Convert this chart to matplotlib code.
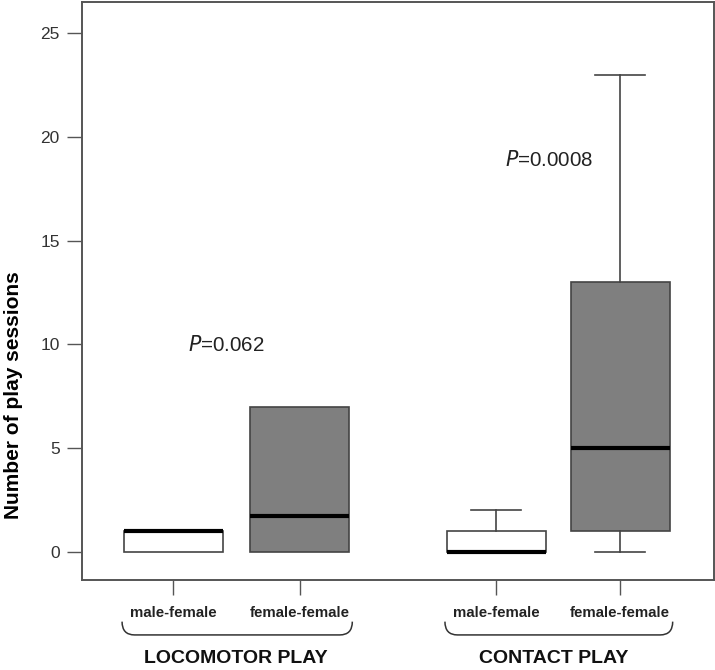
import matplotlib.pyplot as plt
import matplotlib as mpl
from matplotlib.path import Path
from matplotlib.patches import PathPatch
import matplotlib.transforms as mtransforms

plt.rcParams['font.family'] = ['Liberation Sans', 'DejaVu Sans']

# box statistics: (whislo, q1, med, q3, whishi)
pair_labels = ["male-female", "female-female", "male-female", "female-female"]
group_labels = ["LOCOMOTOR PLAY", "CONTACT PLAY"]
whislo = [0, 0, 0, 0]
q1 = [0, 0, 0, 1]
med = [1, 1.75, 0, 5]
q3 = [1, 7, 1, 13]
whishi = [1, 7, 2, 23]
fills = ["white", "#7f7f7f", "white", "#7f7f7f"]
p_texts = ["=0.062", "=0.0008"]
p_y = [9.95, 18.9]

positions = [1, 2.01, 3.58, 4.57]
p_x = [1.42, 4.0]
group_x = [1.5, 4.04]

fig = plt.figure(figsize=(7.15, 6.7), dpi=100)
ax = fig.add_axes([0.1147, 0.1343, 0.8839, 0.8627])

stats = []
for i in range(4):
    stats.append(dict(whislo=whislo[i], q1=q1[i], med=med[i], q3=q3[i],
                      whishi=whishi[i], fliers=[], label=pair_labels[i]))

edge = "#444444"
bp = ax.bxp(stats, positions=positions, widths=0.79, patch_artist=True,
            showfliers=False,
            boxprops=dict(edgecolor=edge, linewidth=1.2),
            medianprops=dict(color="black", linewidth=3, solid_capstyle="butt"),
            whiskerprops=dict(color=edge, linewidth=1.2),
            capprops=dict(color=edge, linewidth=1.2),
            capwidths=0.4)
for patch, c in zip(bp["boxes"], fills):
    patch.set_facecolor(c)

# hide whiskers/caps for boxes that have none
for i in range(4):
    if whislo[i] == q1[i]:
        bp["whiskers"][2 * i].set_visible(False)
        bp["caps"][2 * i].set_visible(False)
    if whishi[i] == q3[i]:
        bp["whiskers"][2 * i + 1].set_visible(False)
        bp["caps"][2 * i + 1].set_visible(False)

ax.set_xlim(0.27, 5.32)
ax.set_ylim(-1.35, 26.5)
ax.set_yticks([0, 5, 10, 15, 20, 25])
ax.set_xticks(positions)
ax.set_xticklabels(pair_labels, fontsize=10.8, fontweight="bold", color="#222222")
ax.tick_params(axis="y", labelsize=12.5, length=11, width=1, color="#555555",
               labelcolor="#333333", pad=5)
ax.tick_params(axis="x", length=11, width=1, color="#555555", pad=8)
for s in ax.spines.values():
    s.set_color("#555555")
    s.set_linewidth(1.4)

ax.set_ylabel("Number of play sessions", fontsize=15, fontweight="bold")
ax.yaxis.set_label_coords(-0.094, 0.32)

for x, y, t in zip(p_x, p_y, p_texts):
    ax.text(x, y, r"$\it{P}$" + t, fontsize=14.8, ha="center", va="center",
            color="#222222")

# curly group brackets below the axis
trans = mtransforms.blended_transform_factory(ax.transData, ax.transAxes)
y_top, y_bot = -0.072, -0.095
for k in range(2):
    x0 = positions[2 * k] - 0.41
    x1 = positions[2 * k + 1] + 0.42
    r = 0.1
    verts = [(x0, y_top), (x0, y_bot), (x0 + r, y_bot), (x1 - r, y_bot),
             (x1, y_bot), (x1, y_top)]
    codes = [Path.MOVETO, Path.CURVE3, Path.CURVE3, Path.LINETO,
             Path.CURVE3, Path.CURVE3]
    ax.add_patch(PathPatch(Path(verts, codes), fill=False, edgecolor="#333333",
                           linewidth=1.1, transform=trans, clip_on=False))
    ax.text(group_x[k], -0.135, group_labels[k], transform=trans,
            ha="center", va="center", fontsize=14, fontweight="bold",
            color="#111111")

plt.savefig("out.png", dpi=100)
